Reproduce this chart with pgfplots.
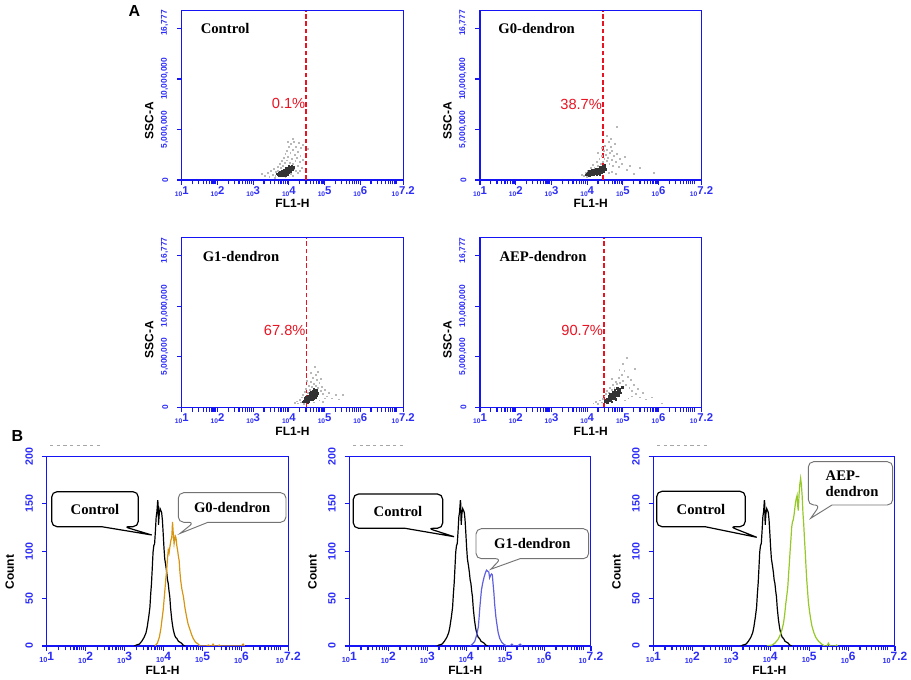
\documentclass[border=0pt]{standalone}
\usepackage{fontspec}
\setmainfont{Liberation Sans}
\newfontfamily\tnr{Liberation Serif}
\usepackage{pgfplots}
\usepackage{pgfplotstable}
\pgfplotsset{compat=1.18}

\definecolor{fcblue}{RGB}{20,20,245}
\definecolor{fclabel}{RGB}{45,45,250}
\definecolor{gzero}{RGB}{214,150,20}
\definecolor{gone}{RGB}{95,95,225}
\definecolor{aepgreen}{RGB}{150,200,40}
\definecolor{gatered}{RGB}{232,20,35}

% tick label "10^k" in the cytometer style
\newcommand{\xlA}[1]{{\fontsize{5}{5}\selectfont 10}\raisebox{0.35ex}{\fontsize{8.5}{9}\selectfont #1}}
\newcommand{\xlB}[1]{{\fontsize{5.5}{6}\selectfont 10}\raisebox{0.35ex}{\fontsize{9}{9}\selectfont #1}}
\newcommand{\bser}{\tnr\bfseries\fontsize{11}{12}\selectfont}

% control histogram (log10 FL1-H, count), same sample in all three B panels
\pgfplotstableread{
x y
3.25 0
3.30 1
3.38 2
3.44 5
3.50 9
3.55 14
3.58 20
3.62 31
3.65 41
3.67 55
3.69 66
3.71 82
3.73 99
3.75 106
3.77 108
3.79 121
3.81 136
3.83 142
3.85 154
3.86 150
3.87 128
3.89 140
3.91 145
3.93 143
3.95 141
3.97 133
3.99 119
4.01 104
4.03 92
4.06 84
4.08 78
4.10 70
4.12 66
4.14 58
4.16 52
4.18 40
4.21 28
4.23 22
4.25 17
4.28 12
4.31 9
4.34 8
4.38 5
4.42 4
4.46 3
4.50 1
4.55 0
}\ctrlhist

\pgfplotstableread{
x y
3.78 0
3.84 3
3.89 9
3.93 18
3.96 28
3.99 38
4.02 52
4.04 62
4.06 72
4.08 80
4.10 92
4.12 101
4.14 98
4.16 104
4.19 112
4.21 114
4.23 131
4.25 118
4.27 108
4.30 116
4.32 114
4.34 106
4.36 101
4.38 95
4.40 90
4.42 78
4.44 69
4.47 60
4.51 52
4.55 40
4.59 31
4.63 23
4.68 17
4.72 12
4.76 8
4.82 4
4.89 2
4.93 0
5.10 0
5.15 1
5.20 0
5.24 0
5.27 2
5.30 0
5.40 0
5.43 1
5.46 0
6.00 0
6.04 2
6.08 0
}\gzerohist

\pgfplotstableread{
x y
4.10 0
4.16 2
4.22 5
4.27 12
4.31 20
4.33 30
4.35 41
4.37 50
4.39 59
4.42 66
4.46 73
4.49 77
4.52 80
4.55 79
4.58 78
4.60 72
4.63 75
4.65 76
4.67 75
4.69 65
4.71 56
4.73 44
4.76 31
4.79 22
4.82 14
4.86 8
4.91 4
4.96 2
5.04 0
5.12 0
5.17 2
5.22 0
5.33 0
5.38 2
5.43 0
}\gonehist

\pgfplotstableread{
x y
3.91 0
4.05 1
4.12 3
4.20 7
4.25 11
4.30 17
4.34 24
4.37 33
4.40 45
4.43 55
4.45 62
4.47 75
4.49 87
4.51 100
4.53 112
4.55 125
4.57 131
4.59 133
4.61 138
4.63 145
4.65 152
4.67 156
4.69 159
4.70 150
4.72 143
4.74 160
4.76 171
4.78 177
4.80 170
4.82 158
4.84 140
4.86 128
4.88 112
4.90 98
4.92 82
4.94 68
4.96 57
4.98 46
5.01 36
5.04 28
5.07 21
5.12 14
5.17 9
5.24 5
5.32 2
5.40 0
5.46 0
5.49 3
5.53 0
5.67 0
5.70 1
5.73 0
}\aephist

\tikzset{gate/.style={gatered, line width=1.3pt, line cap=butt, dash pattern=on 3.5pt off 2pt}}

\pgfplotsset{
  fcs/.style={
    scale only axis, anchor=south west,
    xmin=1, xmax=7.2,
    axis line style={fcblue, line width=0.8pt},
    xtick={1,2,3,4,5,6,7.2},
    minor xtick={1.301,1.477,1.602,1.699,1.778,1.845,1.903,1.954,
                 2.301,2.477,2.602,2.699,2.778,2.845,2.903,2.954,
                 3.301,3.477,3.602,3.699,3.778,3.845,3.903,3.954,
                 4.301,4.477,4.602,4.699,4.778,4.845,4.903,4.954,
                 5.301,5.477,5.602,5.699,5.778,5.845,5.903,5.954,
                 6.301,6.477,6.602,6.699,6.778,6.845,6.903,6.954,7},
    tick align=outside, xtick pos=left, ytick pos=left,
    major tick length=3.5pt, minor tick length=3.2pt,
    tick style={fcblue, line width=0.9pt},
    tick label style={fclabel, font=\bfseries},
    xticklabel style={inner sep=1pt},
    yticklabel style={rotate=90, anchor=south, inner sep=6.5pt},
    label style={font=\bfseries\fontsize{9}{10}\selectfont},
    xlabel={FL1-H},
    xlabel style={anchor=center},
    ylabel style={anchor=center},
  },
  dotplot/.style={
    fcs, width=166.1pt, height=127.1pt,
    xticklabels={\xlA{1},\xlA{2},\xlA{3},\xlA{4},\xlA{5},\xlA{6},\xlA{7.2}},
    ymin=0, ymax=16.777,
    ytick={0,5,10,15},
    yticklabels={0,{5,000,000},{10,000,000},{\hspace*{8pt}16,777}},
    yticklabel style={font=\bfseries\fontsize{6.3}{7}\selectfont},
    ylabel={SSC-A},
  },
  histo/.style={
    fcs, width=181.2pt, height=142.1pt,
    xticklabels={\xlB{1},\xlB{2},\xlB{3},\xlB{4},\xlB{5},\xlB{6},\xlB{7.2}},
    ymin=0, ymax=200,
    ytick={0,50,100,150,200},
    yticklabel style={/pgf/number format/assume math mode=true,
      font=\bfseries\fontsize{8}{8}\selectfont},
    ylabel={Count},
    xlabel style={at={(axis description cs:0.48,-0.13)}},
    ylabel style={at={(axis description cs:-0.153,0.39)}},
  },
  light/.style={only marks, mark=square*, mark size=0.33pt, black!28},
  dark/.style={only marks, mark=square*, mark size=0.5pt, black!80},
  hline/.style={line width=0.9pt, sharp plot},
}

\begin{document}
\begin{tikzpicture}
\path[use as bounding box] (0,0) rectangle (683.25pt,510pt);

% ---- A: Control ----
\begin{axis}[dotplot, at={(136.3pt,375pt)},
  xlabel style={at={(axis description cs:0.5,-0.14)}},
  ylabel style={at={(axis description cs:-0.147,0.35)}}]
\addplot[light] coordinates {
(3.25,0.65)(3.32,0.45)(3.40,0.70)(3.45,0.35)(3.50,0.90)(3.55,0.55)(3.58,1.10)(3.62,0.40)
(3.64,0.85)(3.68,1.30)(3.70,0.95)(3.74,1.60)(3.78,1.20)(3.80,1.90)(3.84,1.45)(3.86,2.20)
(3.88,1.70)(3.90,2.60)(3.93,1.95)(3.95,2.90)(3.98,2.30)(4.00,3.30)(4.02,1.70)(4.04,2.70)
(4.06,3.60)(4.08,2.10)(4.10,3.00)(4.12,1.60)(4.14,3.80)(4.16,2.50)(4.18,1.90)(4.20,3.30)
(4.22,2.20)(4.24,1.40)(4.26,2.80)(4.28,3.70)(4.30,1.80)(4.32,2.40)(4.34,3.20)(4.36,1.20)
(4.38,2.00)(4.40,3.50)(4.15,1.10)(4.20,0.90)(4.25,0.70)(4.05,0.60)(3.60,0.25)(3.90,0.30)
(4.10,0.45)(4.30,0.95)(3.97,3.80)(4.12,4.10)(4.54,3.10)};
\addplot[dark] coordinates {
(3.70,0.55)(3.74,0.62)(3.78,0.50)(3.80,0.70)(3.82,0.60)(3.84,0.80)(3.86,0.65)(3.88,0.75)
(3.90,0.90)(3.92,0.70)(3.94,0.85)(3.96,1.00)(3.98,0.80)(4.00,1.10)(4.02,0.95)(4.05,1.20)
(3.76,0.75)(3.86,0.95)(3.92,1.15)(4.08,1.40)(3.72,0.40)(3.95,0.55)(3.83,0.45)(4.00,1.35)
(4.10,1.05)(3.72,0.65)(3.76,0.45)(3.80,0.85)(3.84,0.55)(3.88,0.60)(3.90,0.45)(3.92,0.95)
(3.96,0.65)(3.98,1.15)(4.00,0.75)(4.04,0.85)(4.06,1.00)(3.78,0.65)(3.82,0.90)(3.86,0.50)
(3.94,0.60)(4.02,1.30)(3.68,0.50)(3.66,0.60)(4.12,1.25)};
\draw[gate] (axis cs:4.485,0) -- (axis cs:4.485,16.777);
\node[gatered, anchor=east, inner sep=0.5pt, font=\fontsize{11}{11}\selectfont] at (axis cs:4.485,7.6) {0.1\%};
\node[anchor=west, inner sep=0pt, font=\bser] at (axis description cs:0.085,0.893) {Control};
\end{axis}

% ---- A: G0-dendron ----
\begin{axis}[dotplot, at={(360pt,375pt)},
  xlabel style={at={(axis description cs:0.5,-0.14)}},
  ylabel style={at={(axis description cs:-0.147,0.35)}}]
\addplot[light] coordinates {
(3.84,0.50)(3.90,0.40)(3.95,0.75)(3.98,0.35)(4.02,0.95)(4.10,1.20)(4.16,1.50)(4.20,1.20)
(4.26,1.80)(4.30,1.40)(4.34,2.10)(4.38,1.60)(4.42,2.40)(4.44,1.80)(4.46,2.90)(4.48,2.10)
(4.50,3.40)(4.52,2.50)(4.54,1.90)(4.56,3.00)(4.58,2.20)(4.60,3.80)(4.62,1.60)(4.64,2.70)
(4.66,3.30)(4.68,2.00)(4.70,2.90)(4.72,1.40)(4.75,2.40)(4.78,3.60)(4.80,1.80)(4.84,2.60)
(4.88,1.30)(4.92,2.10)(4.98,1.60)(5.05,2.30)(5.10,1.00)(4.84,5.30)(4.66,4.10)(4.56,4.40)
(4.70,0.80)(4.80,0.60)(4.60,0.70)(5.20,1.40)(5.48,1.20)(5.87,0.75)(5.30,0.60)(4.40,3.20)
(4.30,2.70)};
\addplot[dark] coordinates {
(4.00,0.55)(4.05,0.60)(4.08,0.70)(4.10,0.50)(4.12,0.80)(4.15,0.65)(4.18,0.75)(4.20,0.60)
(4.22,0.90)(4.25,0.70)(4.28,0.85)(4.30,1.00)(4.32,0.75)(4.35,1.10)(4.38,0.90)(4.40,1.25)
(4.42,1.00)(4.45,1.35)(4.48,1.15)(4.50,1.50)(4.14,0.95)(4.24,1.05)(4.06,0.45)(4.36,0.55)
(4.52,1.05)(4.02,0.70)(4.06,0.85)(4.10,0.75)(4.12,0.55)(4.16,0.85)(4.18,0.50)(4.20,0.95)
(4.22,0.65)(4.26,0.55)(4.28,1.10)(4.30,0.65)(4.32,0.95)(4.34,0.80)(4.36,1.25)(4.40,0.75)
(4.44,1.10)(4.46,0.85)(4.48,1.40)(3.96,0.50)(4.08,0.60)};
\draw[gate] (axis cs:4.44,0) -- (axis cs:4.44,16.777);
\node[gatered, anchor=east, inner sep=0.5pt, font=\fontsize{11}{11}\selectfont] at (axis cs:4.44,7.5) {38.7\%};
\node[anchor=west, inner sep=0pt, font=\bser] at (axis description cs:0.082,0.893) {G0-dendron};
\end{axis}

% ---- A: G1-dendron ----
\begin{axis}[dotplot, at={(136.3pt,204.5pt)},
  xlabel style={at={(axis description cs:0.5,-0.14)}},
  ylabel style={at={(axis description cs:-0.147,0.40)}}]
\addplot[light] coordinates {
(4.17,0.45)(4.22,0.60)(4.26,0.40)(4.30,0.75)(4.34,0.50)(4.36,1.00)(4.40,1.25)(4.44,1.50)
(4.48,1.80)(4.52,1.40)(4.55,2.10)(4.58,1.70)(4.61,2.50)(4.64,2.00)(4.67,2.90)(4.70,2.30)
(4.73,4.00)(4.74,3.20)(4.76,2.10)(4.79,2.70)(4.82,1.90)(4.85,2.40)(4.88,1.60)(4.92,2.00)
(4.95,1.30)(5.00,1.70)(5.05,1.10)(5.12,1.40)(5.20,0.90)(5.30,1.20)(5.40,0.80)(5.52,1.20)
(4.85,0.70)(4.95,0.55)(4.60,3.40)(4.80,3.50)(4.90,2.80)(4.50,2.60)(4.42,0.35)(5.00,0.90)
(4.70,0.50)};
\addplot[dark] coordinates {
(4.40,0.55)(4.44,0.70)(4.47,0.60)(4.50,0.85)(4.52,0.70)(4.55,1.00)(4.57,0.80)(4.60,1.15)
(4.62,0.90)(4.64,1.30)(4.66,1.05)(4.68,1.40)(4.70,1.15)(4.72,1.55)(4.74,1.25)(4.77,1.70)
(4.48,1.05)(4.58,1.35)(4.66,0.75)(4.53,0.50)(4.62,1.55)(4.70,1.85)(4.80,1.40)(4.45,0.90)
(4.75,0.95)(4.42,0.60)(4.46,0.80)(4.50,0.65)(4.54,0.90)(4.56,0.60)(4.58,1.05)(4.60,0.80)
(4.62,1.20)(4.64,0.95)(4.66,1.35)(4.68,1.10)(4.70,0.90)(4.72,1.30)(4.74,1.05)(4.76,1.45)
(4.78,1.20)(4.52,1.15)(4.60,1.45)(4.68,1.60)(4.56,0.75)};
\draw[gate] (axis cs:4.49,0) -- (axis cs:4.49,16.777);
\node[gatered, anchor=east, inner sep=0.5pt, font=\fontsize{11}{11}\selectfont] at (axis cs:4.49,7.6) {67.8\%};
\node[anchor=west, inner sep=0pt, font=\bser] at (axis description cs:0.094,0.888) {G1-dendron};
\end{axis}

% ---- A: AEP-dendron ----
\begin{axis}[dotplot, at={(360pt,204.5pt)},
  xlabel style={at={(axis description cs:0.5,-0.14)}},
  ylabel style={at={(axis description cs:-0.147,0.40)}}]
\addplot[light] coordinates {
(4.17,0.40)(4.25,0.55)(4.30,0.35)(4.35,0.70)(4.40,0.50)(4.44,0.85)(4.48,1.10)(4.52,1.30)
(4.56,1.60)(4.60,1.40)(4.64,1.90)(4.68,1.70)(4.72,2.20)(4.76,1.95)(4.80,2.50)(4.84,2.30)
(4.88,2.90)(4.92,2.40)(4.96,3.20)(5.00,2.60)(5.04,3.60)(5.08,2.20)(5.10,4.90)(5.14,3.00)
(5.18,1.90)(5.22,2.70)(5.26,1.60)(5.30,2.20)(5.33,3.80)(5.36,1.30)(5.42,1.80)(5.48,1.00)
(5.55,1.40)(5.65,0.80)(5.80,1.00)(6.08,0.40)(5.05,0.70)(5.15,0.90)(5.00,4.30)(4.90,3.70)
(4.70,2.80)(5.25,1.10)};
\addplot[dark] coordinates {
(4.50,0.60)(4.54,0.75)(4.57,0.65)(4.60,0.90)(4.63,0.75)(4.66,1.05)(4.68,0.85)(4.71,1.20)
(4.73,0.95)(4.76,1.35)(4.78,1.05)(4.81,1.50)(4.83,1.20)(4.86,1.65)(4.88,1.30)(4.91,1.80)
(4.62,1.15)(4.72,1.50)(4.80,0.80)(4.56,0.45)(4.68,0.55)(4.94,1.45)(4.84,1.90)(4.98,2.00)
(4.65,1.35)(4.52,0.70)(4.55,0.85)(4.58,0.60)(4.61,1.00)(4.64,0.85)(4.66,1.20)(4.69,0.95)
(4.70,1.35)(4.72,1.05)(4.75,1.20)(4.77,1.50)(4.79,1.25)(4.82,1.35)(4.85,1.50)(4.87,1.15)
(4.90,1.60)(4.60,0.70)(4.74,0.85)(4.67,0.70)(4.78,1.70)};
\draw[gate] (axis cs:4.47,0) -- (axis cs:4.47,16.777);
\node[gatered, anchor=east, inner sep=0.5pt, font=\fontsize{11}{11}\selectfont] at (axis cs:4.47,7.6) {90.7\%};
\node[anchor=west, inner sep=0pt, font=\bser] at (axis description cs:0.087,0.888) {AEP-dendron};
\end{axis}

% ---- B: histograms ----
\begin{axis}[histo, at={(35pt,25.5pt)}]
\addplot[hline, black] table {\ctrlhist};
\addplot[hline, gzero] table {\gzerohist};
\end{axis}

\begin{axis}[histo, at={(262pt,25.5pt)}]
\addplot[hline, black] table {\ctrlhist};
\addplot[hline, gone] table {\gonehist};
\end{axis}

\begin{axis}[histo, at={(490pt,25.5pt)}]
\addplot[hline, black] table {\ctrlhist};
\addplot[hline, aepgreen] table {\aephist};
\end{axis}

% ---- annotations in pixel units (y downwards) ----
\begin{scope}[shift={(0,510pt)}, x=0.75pt, y=-0.75pt]
\node[font=\bfseries\fontsize{12}{12}\selectfont] at (134.5,11.5) {A};
\node[font=\bfseries\fontsize{12}{12}\selectfont] at (17.5,436) {B};
% faint marks above the histograms
\foreach \x in {50,353,657}
  \draw[black!35, line width=0.6pt, dash pattern=on 2.5pt off 2.5pt] (\x,445) -- (\x+50,445);
% B1 callouts
\draw[black, line width=0.9pt, fill=white] (101.7,526.7) [rounded corners=4pt] -- (51.7,526.7) -- (51.7,491.7) -- (138.3,491.7) -- (138.3,526.7) -- (124,526.7) [sharp corners] -- (151.7,535) -- cycle;
\node[font=\bser] at (95,509.2) {Control};
\draw[black!55, line width=0.7pt, fill=white] (208,522.3) [rounded corners=4pt] -- (286,522.3) -- (286,492.7) -- (178.3,492.7) -- (178.3,522.3) -- (194,522.3) [sharp corners] -- (180,533.5) -- cycle;
\node[font=\bser] at (232.2,507.5) {G0-dendron};
% B2 callouts
\draw[black, line width=0.9pt, fill=white] (405,528.3) [rounded corners=4pt] -- (353.3,528.3) -- (353.3,494) -- (442.7,494) -- (442.7,528.3) -- (428,528.3) [sharp corners] -- (454,536.7) -- cycle;
\node[font=\bser] at (398,511.2) {Control};
\draw[black!55, line width=0.7pt, fill=white] (520,558.7) [rounded corners=4pt] -- (588.7,558.7) -- (588.7,528.7) -- (476,528.7) -- (476,558.7) -- (501,558.7) [sharp corners] -- (490.7,569.3) -- cycle;
\node[font=\bser] at (532.3,543.7) {G1-dendron};
% B3 callouts
\draw[black, line width=0.9pt, fill=white] (705,526.7) [rounded corners=4pt] -- (656.7,526.7) -- (656.7,491.3) -- (745.3,491.3) -- (745.3,526.7) -- (730,526.7) [sharp corners] -- (756.7,537.3) -- cycle;
\node[font=\bser] at (701,509) {Control};
\draw[black!55, line width=0.7pt, fill=white] (832,505) [rounded corners=4pt] -- (892.7,505) -- (892.7,461.7) -- (808.3,461.7) -- (808.3,505) -- (820,505) [sharp corners] -- (810.7,518.3) -- cycle;
\node[font=\bser, anchor=west, align=left] at (821,483.3) {AEP-\\dendron};
\end{scope}
\end{tikzpicture}
\end{document}
